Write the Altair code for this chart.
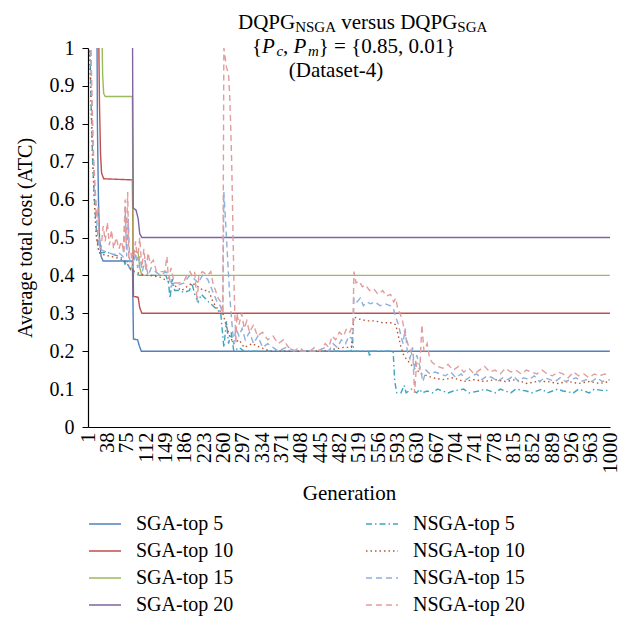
import altair as alt
import pandas as pd

# ---------------- data ----------------
# values above 1 lie above the top of the axis and are clipped, as in the reference
sga5_g = [1, 18, 19, 21, 23, 26, 30, 86, 88, 96, 99, 103, 1000]
sga5_v = [1.1, 1.1, 0.8, 0.6, 0.5, 0.45, 0.438, 0.438, 0.232, 0.23, 0.215, 0.2, 0.2]

sga10_g = [1, 21, 23, 25, 27, 31, 86, 88, 97, 100, 104, 1000]
sga10_v = [1.1, 1.1, 0.85, 0.72, 0.67, 0.655, 0.652, 0.345, 0.342, 0.315, 0.3, 0.3]

sga15_g = [1, 27, 29, 31, 34, 86, 87.5, 97, 100, 104, 1000]
sga15_v = [1.1, 1.1, 0.93, 0.88, 0.872, 0.872, 0.465, 0.46, 0.42, 0.4, 0.4]

sga20_g = [1, 86, 87.5, 93, 97, 100, 104, 1000]
sga20_v = [1.1, 1.1, 0.578, 0.572, 0.55, 0.51, 0.5, 0.5]

nsga5_g = [1, 4, 7, 10, 14, 18, 22, 30, 40, 50, 60, 68, 72, 76, 80, 85, 90, 100,
           110, 120, 135, 150, 155, 158, 162, 167, 175, 185, 195, 200, 205, 212,
           218, 225, 232, 240, 248, 255, 261, 266, 270, 275, 280, 290, 300, 350,
           400, 450, 505, 507, 510, 538, 540, 542, 585, 588, 592, 600, 606, 610,
           620, 630, 636, 640, 650, 660, 670, 690, 700, 720, 730, 750, 760, 780,
           790, 810, 820, 840, 850, 870, 880, 900, 910, 930, 940, 960, 970, 990, 1000]
nsga5_v = [1.1, 1.05, 0.85, 0.7, 0.58, 0.5, 0.46, 0.46, 0.46, 0.455, 0.45, 0.445, 0.43,
           0.44, 0.42, 0.41, 0.405, 0.4, 0.4, 0.4, 0.4, 0.4, 0.38, 0.34, 0.39, 0.36,
           0.36, 0.355, 0.36, 0.38, 0.35, 0.33, 0.35, 0.34, 0.33, 0.32, 0.31, 0.3,
           0.21, 0.28, 0.22, 0.25, 0.2, 0.21, 0.2, 0.2, 0.2, 0.2, 0.2, 0.23, 0.2,
           0.2, 0.185, 0.2, 0.2, 0.12, 0.09, 0.09, 0.11, 0.09, 0.1, 0.09, 0.1, 0.09,
           0.095, 0.09, 0.1, 0.09, 0.095, 0.1, 0.09, 0.095, 0.1, 0.09, 0.1, 0.09,
           0.1, 0.095, 0.09, 0.1, 0.09, 0.1, 0.095, 0.09, 0.1, 0.09, 0.1, 0.095, 0.1]

nsga10_g = [1, 5, 9, 13, 17, 22, 30, 45, 60, 70, 76, 82, 90, 100, 110, 120, 140,
            160, 170, 180, 190, 200, 212, 222, 232, 240, 250, 259, 265, 272, 280,
            290, 300, 315, 330, 350, 400, 450, 470, 490, 505, 510, 520, 535, 550,
            565, 580, 590, 595, 600, 605, 610, 616, 622, 630, 640, 650, 660, 680,
            700, 720, 740, 760, 780, 800, 820, 840, 860, 880, 900, 920, 940, 960,
            980, 1000]
nsga10_v = [1.1, 0.95, 0.75, 0.6, 0.5, 0.46, 0.455, 0.45, 0.445, 0.44, 0.43, 0.42,
            0.41, 0.405, 0.4, 0.4, 0.395, 0.38, 0.37, 0.36, 0.37, 0.38, 0.37, 0.36,
            0.36, 0.33, 0.31, 0.3, 0.27, 0.24, 0.22, 0.23, 0.21, 0.22, 0.21, 0.2,
            0.2, 0.2, 0.205, 0.21, 0.21, 0.29, 0.285, 0.28, 0.28, 0.275, 0.275,
            0.27, 0.24, 0.21, 0.19, 0.18, 0.17, 0.16, 0.15, 0.14, 0.135, 0.13,
            0.125, 0.13, 0.12, 0.125, 0.12, 0.125, 0.12, 0.125, 0.115, 0.12, 0.12,
            0.115, 0.12, 0.115, 0.12, 0.115, 0.12]

nsga15_g = [1, 5, 9, 12, 16, 20, 24, 30, 40, 50, 60, 68, 72, 75, 78, 81, 87, 92,
            96, 100, 105, 110, 116, 122, 130, 140, 150, 156, 160, 166, 175, 185,
            190, 196, 205, 212, 220, 230, 236, 242, 248, 254, 259, 261, 264, 268,
            272, 276, 280, 284, 290, 296, 302, 310, 318, 326, 335, 345, 355, 365,
            380, 400, 420, 440, 455, 462, 470, 478, 486, 494, 500, 508, 510, 516,
            522, 528, 535, 542, 550, 560, 570, 580, 586, 590, 595, 600, 604, 608,
            612, 617, 622, 626, 630, 636, 642, 648, 655, 665, 675, 685, 695, 705,
            715, 725, 735, 745, 755, 765, 775, 785, 795, 805, 815, 825, 835, 845,
            855, 865, 875, 885, 895, 905, 915, 925, 935, 945, 955, 965, 975, 985, 1000]
nsga15_v = [1.1, 1.05, 0.8, 0.68, 0.58, 0.5, 0.47, 0.465, 0.46, 0.455, 0.46, 0.45,
            0.58, 0.45, 0.55, 0.43, 0.42, 0.46, 0.42, 0.45, 0.41, 0.44, 0.4, 0.42,
            0.41, 0.4, 0.41, 0.4, 0.37, 0.38, 0.375, 0.38, 0.39, 0.4, 0.39, 0.38,
            0.4, 0.39, 0.37, 0.35, 0.33, 0.32, 0.3, 0.62, 0.55, 0.45, 0.35, 0.28,
            0.22, 0.26, 0.24, 0.26, 0.23, 0.25, 0.22, 0.24, 0.21, 0.22, 0.21, 0.2,
            0.21, 0.2, 0.2, 0.2, 0.21, 0.2, 0.22, 0.21, 0.23, 0.22, 0.24, 0.23,
            0.34, 0.33, 0.34, 0.32, 0.33, 0.325, 0.33, 0.32, 0.325, 0.32, 0.31,
            0.29, 0.27, 0.24, 0.22, 0.26, 0.2, 0.18, 0.21, 0.15, 0.19, 0.16, 0.12,
            0.15, 0.14, 0.145, 0.14, 0.135, 0.145, 0.13, 0.14, 0.125, 0.135, 0.14,
            0.125, 0.135, 0.13, 0.12, 0.13, 0.125, 0.135, 0.12, 0.13, 0.125, 0.135,
            0.12, 0.13, 0.125, 0.12, 0.13, 0.12, 0.125, 0.13, 0.12, 0.125, 0.12,
            0.13, 0.12, 0.125]

nsga20_g = [1, 6, 9, 12, 15, 18, 20, 22, 26, 30, 34, 38, 42, 46, 50, 55, 60, 65,
            70, 72, 74, 77, 79, 83, 87, 92, 96, 100, 104, 108, 112, 116, 120, 126,
            132, 140, 148, 152, 155, 160, 166, 175, 185, 190, 196, 200, 205, 210,
            213, 220, 230, 236, 240, 245, 250, 255, 259, 261, 263, 266, 270, 272,
            274, 276, 278, 280, 282, 284, 286, 290, 295, 300, 305, 310, 318, 325,
            335, 345, 355, 365, 375, 385, 395, 405, 415, 425, 435, 445, 455, 462,
            468, 475, 482, 490, 496, 502, 508, 510, 514, 520, 526, 532, 540, 548,
            556, 565, 572, 580, 586, 590, 594, 598, 603, 607, 611, 615, 619, 623,
            626, 630, 636, 640, 644, 650, 655, 660, 670, 680, 690, 700, 710, 720,
            730, 740, 750, 760, 770, 780, 790, 800, 810, 820, 830, 840, 850, 860,
            870, 880, 890, 900, 910, 920, 930, 940, 950, 960, 970, 980, 990, 1000]
nsga20_v = [1.1, 1.05, 0.85, 0.7, 0.62, 0.55, 0.58, 0.5, 0.47, 0.53, 0.49, 0.54,
            0.48, 0.52, 0.47, 0.5, 0.47, 0.49, 0.46, 0.6, 0.48, 0.62, 0.45, 0.46,
            0.43, 0.49, 0.44, 0.5, 0.42, 0.47, 0.41, 0.46, 0.43, 0.44, 0.41, 0.41,
            0.41, 0.45, 0.39, 0.42, 0.38, 0.38, 0.385, 0.4, 0.41, 0.4, 0.41, 0.33,
            0.4, 0.41, 0.4, 0.41, 0.38, 0.36, 0.34, 0.33, 0.3, 1.0, 0.98, 0.95,
            0.93, 0.88, 0.8, 0.7, 0.55, 0.4, 0.3, 0.22, 0.3, 0.27, 0.3, 0.26, 0.28,
            0.25, 0.27, 0.24, 0.25, 0.23, 0.24, 0.22, 0.23, 0.21, 0.2, 0.21, 0.2,
            0.2, 0.21, 0.2, 0.22, 0.21, 0.24, 0.23, 0.25, 0.24, 0.26, 0.25, 0.27,
            0.41, 0.38, 0.385, 0.37, 0.375, 0.36, 0.365, 0.35, 0.36, 0.345, 0.35,
            0.33, 0.34, 0.31, 0.3, 0.28, 0.25, 0.23, 0.21, 0.2, 0.18, 0.09, 0.17,
            0.15, 0.27, 0.2, 0.22, 0.18, 0.17, 0.16, 0.155, 0.165, 0.15, 0.16,
            0.145, 0.155, 0.14, 0.15, 0.16, 0.145, 0.15, 0.14, 0.155, 0.145, 0.15,
            0.14, 0.15, 0.145, 0.14, 0.15, 0.14, 0.135, 0.145, 0.14, 0.13, 0.145,
            0.135, 0.14, 0.13, 0.14, 0.135, 0.14, 0.135]

series_names = ["SGA-top 5", "SGA-top 10", "SGA-top 15", "SGA-top 20",
                "NSGA-top 5", "NSGA-top 10", "NSGA-top 15", "NSGA-top 20"]
series_data = [(sga5_g, sga5_v), (sga10_g, sga10_v), (sga15_g, sga15_v),
               (sga20_g, sga20_v), (nsga5_g, nsga5_v), (nsga10_g, nsga10_v),
               (nsga15_g, nsga15_v), (nsga20_g, nsga20_v)]
series_colors = ["#4F81BD", "#C0504D", "#9BBB59", "#8064A2",
                 "#3FA3BE", "#B8552E", "#8FAEDB", "#E29C9C"]
series_dash = [[1, 0], [1, 0], [1, 0], [1, 0],
               [6, 3, 1.5, 3], [1.5, 3], [6, 4], [6, 4]]

x_ticks = [1, 38, 75, 112, 149, 186, 223, 260, 297, 334, 371, 408, 445, 482,
           519, 556, 593, 630, 667, 704, 741, 778, 815, 852, 889, 926, 963, 1000]
y_ticks = [0, 0.1, 0.2, 0.3, 0.4, 0.5, 0.6, 0.7, 0.8, 0.9, 1.0]

rows = []
for order, (name, (gs, vs)) in enumerate(zip(series_names, series_data)):
    for g, v in zip(gs, vs):
        rows.append({"series": name, "gen": g, "atc": v, "ord": order})
df = pd.DataFrame(rows)

FONT = "Liberation Serif"
W, H = 522, 379
LEFT, TOP = 88, 48

# Vega fills a multi-column legend column by column
leg = alt.Legend(title=None, orient="none", legendX=0, legendY=459, columns=2,
                 columnPadding=129, rowPadding=0, symbolType="stroke",
                 symbolSize=1024, symbolStrokeWidth=1.5, labelFont=FONT,
                 labelFontSize=20, labelColor="black", labelOffset=14,
                 padding=0, labelLimit=0)

lines = alt.Chart(df).mark_line(strokeWidth=1.4, clip=True).encode(
    x=alt.X("gen:Q", scale=alt.Scale(domain=[1, 1000], nice=False, zero=False),
            axis=alt.Axis(values=x_ticks, format="d", labelAngle=-90,
                          labelFont=FONT, labelFontSize=20.5, labelColor="black",
                          ticks=False, labelPadding=5, domainColor="black",
                          domainWidth=1.2, grid=False, title="Generation",
                          titleFont=FONT, titleFontSize=21,
                          titleFontWeight="normal", titleColor="black",
                          titleY=72, titleBaseline="alphabetic",
                          labelOverlap=False, labelFlush=False)),
    y=alt.Y("atc:Q", scale=alt.Scale(domain=[0, 1], nice=False),
            axis=alt.Axis(values=y_ticks, format=".1~f", labelFont=FONT,
                          labelFontSize=20, labelColor="black", tickSize=6,
                          tickColor="black", labelPadding=8, domainColor="black",
                          domainWidth=1.2, grid=False,
                          title="Average total cost (ATC)", titleFont=FONT,
                          titleFontSize=20, titleFontWeight="normal",
                          titleColor="black", titleX=-57, titleY=H / 2,
                          titleAngle=-90, titleBaseline="alphabetic",
                          titleAlign="center")),
    color=alt.Color("series:N", scale=alt.Scale(domain=series_names,
                                                range=series_colors), legend=leg),
    strokeDash=alt.StrokeDash("series:N", scale=alt.Scale(domain=series_names,
                                                          range=series_dash),
                              legend=leg),
    order=alt.Order("ord:Q"),
)

# ---------------- title, built from pieces to allow subscripts ----------------
TW = {" ": 250, "(": 333, ")": 333, "{": 480, "}": 480, ",": 250, ".": 250,
      "-": 333, "=": 564, "A": 722, "D": 722, "G": 722, "N": 722, "P": 556,
      "Q": 722, "S": 556, "a": 444, "e": 444, "r": 333, "s": 389, "t": 278,
      "u": 500, "v": 500, "c": 444, "m": 778}
TWI = {"P": 611, "c": 444, "m": 722}


def tw(s, size, italic=False):
    tab = TWI if italic else TW
    return sum((tab.get(ch, TW.get(ch, 500))) for ch in s) * size / 1000.0


def piece(text, px, py, size, italic=False):
    return alt.Chart(pd.DataFrame({"t": [text]})).mark_text(
        font=FONT, fontSize=size, fontStyle="italic" if italic else "normal",
        align="left", baseline="alphabetic", color="black").encode(
        x=alt.value(px - LEFT), y=alt.value(py - TOP), text="t:N")


BIG, SUB = 21, 15
title_layers = []
# line 1
x0, y0 = 238, 29
parts1 = [("DQPG", BIG, False, 0), ("NSGA", SUB, False, 3), (" ", BIG, False, 0),
          ("versus DQPG", BIG, False, 0), ("SGA", SUB, False, 3)]
cx = x0
for txt, sz, it, dy in parts1:
    if txt.strip():
        title_layers.append(piece(txt, cx, y0 + dy, sz, it))
    cx += tw(txt, sz, it)
# line 2
x0, y0 = 252, 53
parts2 = [("{", BIG, False, 0), ("P", BIG, True, 0), ("c", SUB, True, 3),
          (",", BIG, False, 0), (" ", BIG, False, 0), ("P", BIG, True, 0),
          ("m", SUB, True, 3), ("}", BIG, False, 0), (" ", BIG, False, 0),
          ("= {0.85, 0.01}", BIG, False, 0)]
cx = x0
for txt, sz, it, dy in parts2:
    if txt.strip():
        title_layers.append(piece(txt, cx, y0 + dy, sz, it))
    cx += tw(txt, sz, it) + (1.5 if it and sz == BIG else 0)
# line 3
txt3 = "(Dataset-4)"
title_layers.append(piece(txt3, 336 - tw(txt3, BIG) / 2, 77, BIG))

chart = alt.layer(lines, *title_layers).properties(
    width=W, height=H,
    padding={"left": LEFT, "top": TOP, "right": 629 - LEFT - W,
             "bottom": 618 - TOP - H},
    autosize=alt.AutoSizeParams(type="none"),
    background="white",
).configure_view(stroke=None)

chart.save("out.html", embed_options={"renderer": "svg", "actions": False})
